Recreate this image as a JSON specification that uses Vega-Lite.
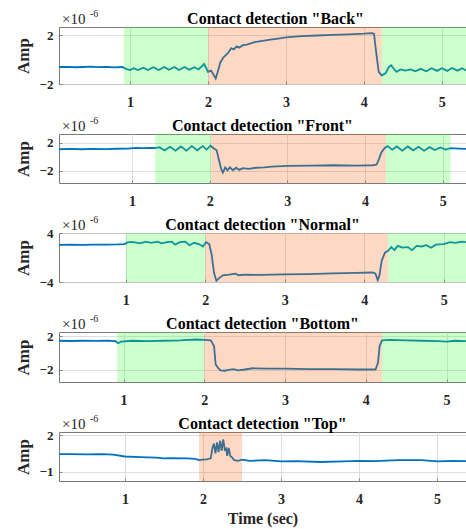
{
  "$schema": "https://vega.github.io/schema/vega-lite/v6.json",
  "padding": {"left": 13, "top": 8, "right": 0, "bottom": 2},
  "bounds": "flush",
  "spacing": 50,
  "background": "white",
  "config": {
    "font": "Liberation Serif",
    "view": {"stroke": "#7a7a7a", "strokeWidth": 1},
    "axis": {
      "labelFont": "Liberation Serif", "labelFontWeight": "bold", "labelFontSize": 13, "labelColor": "#262626", "labelFlush": false, "labelOverlap": false,
      "titleFont": "Liberation Serif", "titleFontWeight": "bold", "titleFontSize": 17, "titleColor": "#262626",
      "gridColor": "#d6d6d6", "gridWidth": 0.8, "domain": false, "ticks": true, "tickColor": "#6e6e6e", "tickSize": -3, "tickWidth": 0.8
    },
    "axisX": {"labelPadding": 14, "titlePadding": 4, "labelFontSize": 14},
    "axisY": {"labelPadding": 9, "titlePadding": 7},
    "title": {"font": "Liberation Serif", "fontSize": 16, "fontWeight": "bold", "color": "#000000", "offset": -18, "anchor": "middle"}
  },
  "datasets": {
    "back": [
      {"t": 0.09, "a": -0.6}, {"t": 0.2, "a": -0.58}, {"t": 0.3, "a": -0.62}, {"t": 0.4, "a": -0.6}, {"t": 0.5, "a": -0.57}, {"t": 0.6, "a": -0.61}, {"t": 0.7, "a": -0.6}, {"t": 0.8, "a": -0.63}, {"t": 0.9, "a": -0.6},
      {"t": 0.95, "a": -0.75}, {"t": 1.0, "a": -0.85}, {"t": 1.05, "a": -0.7}, {"t": 1.1, "a": -0.85}, {"t": 1.17, "a": -0.65}, {"t": 1.23, "a": -0.85}, {"t": 1.3, "a": -0.62}, {"t": 1.37, "a": -0.85}, {"t": 1.44, "a": -0.6}, {"t": 1.5, "a": -0.82}, {"t": 1.57, "a": -0.6}, {"t": 1.63, "a": -0.85}, {"t": 1.7, "a": -0.6}, {"t": 1.76, "a": -0.82}, {"t": 1.83, "a": -0.62}, {"t": 1.88, "a": -0.8}, {"t": 1.95, "a": -0.35}, {"t": 1.98, "a": -0.7}, {"t": 2.0, "a": -1.0}, {"t": 2.04, "a": -0.9}, {"t": 2.07, "a": -1.2}, {"t": 2.1, "a": -1.55}, {"t": 2.13, "a": -0.9}, {"t": 2.16, "a": -0.2}, {"t": 2.2, "a": 0.2}, {"t": 2.25, "a": 0.5}, {"t": 2.3, "a": 0.95}, {"t": 2.33, "a": 0.85}, {"t": 2.37, "a": 1.1}, {"t": 2.4, "a": 1.0}, {"t": 2.45, "a": 1.2}, {"t": 2.5, "a": 1.25}, {"t": 2.6, "a": 1.45}, {"t": 2.7, "a": 1.55}, {"t": 2.8, "a": 1.65}, {"t": 2.9, "a": 1.75}, {"t": 3.0, "a": 1.85}, {"t": 3.2, "a": 1.95}, {"t": 3.4, "a": 2.0}, {"t": 3.6, "a": 2.05}, {"t": 3.8, "a": 2.1}, {"t": 4.0, "a": 2.15}, {"t": 4.1, "a": 2.2}, {"t": 4.13, "a": 2.15}, {"t": 4.16, "a": 0.5}, {"t": 4.19, "a": -1.0}, {"t": 4.23, "a": -1.3}, {"t": 4.28, "a": -1.1}, {"t": 4.32, "a": -0.6}, {"t": 4.35, "a": -0.45}, {"t": 4.39, "a": -0.8}, {"t": 4.42, "a": -1.0}, {"t": 4.47, "a": -0.8}, {"t": 4.53, "a": -0.9}, {"t": 4.6, "a": -0.8}, {"t": 4.66, "a": -0.95}, {"t": 4.73, "a": -0.75}, {"t": 4.8, "a": -0.95}, {"t": 4.87, "a": -0.7}, {"t": 4.94, "a": -0.92}, {"t": 5.0, "a": -0.7}, {"t": 5.07, "a": -0.92}, {"t": 5.13, "a": -0.68}, {"t": 5.2, "a": -0.9}, {"t": 5.26, "a": -0.7}, {"t": 5.31, "a": -0.88}
    ],
    "front": [
      {"t": 0.06, "a": 1.05}, {"t": 0.2, "a": 1.1}, {"t": 0.35, "a": 1.05}, {"t": 0.5, "a": 1.1}, {"t": 0.65, "a": 1.08}, {"t": 0.8, "a": 1.12}, {"t": 0.95, "a": 1.15}, {"t": 1.05, "a": 1.25}, {"t": 1.15, "a": 1.2}, {"t": 1.25, "a": 1.25}, {"t": 1.3, "a": 1.2},
      {"t": 1.35, "a": 1.35}, {"t": 1.42, "a": 0.9}, {"t": 1.49, "a": 1.4}, {"t": 1.56, "a": 0.85}, {"t": 1.63, "a": 1.45}, {"t": 1.7, "a": 0.85}, {"t": 1.77, "a": 1.5}, {"t": 1.84, "a": 0.9}, {"t": 1.91, "a": 1.5}, {"t": 1.96, "a": 1.0}, {"t": 2.01, "a": 1.55}, {"t": 2.05, "a": 1.2}, {"t": 2.09, "a": 0.9}, {"t": 2.12, "a": -0.5}, {"t": 2.15, "a": -1.8}, {"t": 2.17, "a": -2.25}, {"t": 2.2, "a": -1.5}, {"t": 2.23, "a": -1.9}, {"t": 2.26, "a": -1.5}, {"t": 2.3, "a": -1.9}, {"t": 2.34, "a": -1.55}, {"t": 2.38, "a": -1.85}, {"t": 2.43, "a": -1.6}, {"t": 2.5, "a": -1.7}, {"t": 2.6, "a": -1.55}, {"t": 2.7, "a": -1.5}, {"t": 2.8, "a": -1.4}, {"t": 3.0, "a": -1.3}, {"t": 3.3, "a": -1.25}, {"t": 3.6, "a": -1.2}, {"t": 3.9, "a": -1.25}, {"t": 4.1, "a": -1.2}, {"t": 4.15, "a": -1.1}, {"t": 4.18, "a": -0.3}, {"t": 4.21, "a": 0.6}, {"t": 4.25, "a": 1.2}, {"t": 4.29, "a": 1.5}, {"t": 4.35, "a": 1.0}, {"t": 4.41, "a": 1.45}, {"t": 4.48, "a": 0.85}, {"t": 4.55, "a": 1.45}, {"t": 4.62, "a": 0.9}, {"t": 4.69, "a": 1.4}, {"t": 4.76, "a": 0.85}, {"t": 4.83, "a": 1.35}, {"t": 4.9, "a": 0.95}, {"t": 4.97, "a": 1.3}, {"t": 5.04, "a": 1.0}, {"t": 5.1, "a": 1.2}, {"t": 5.2, "a": 1.15}, {"t": 5.3, "a": 1.1}
    ],
    "normal": [
      {"t": 0.16, "a": 2.05}, {"t": 0.3, "a": 2.1}, {"t": 0.45, "a": 2.05}, {"t": 0.6, "a": 2.1}, {"t": 0.75, "a": 2.1}, {"t": 0.9, "a": 2.15}, {"t": 0.98, "a": 2.2}, {"t": 1.03, "a": 2.5}, {"t": 1.1, "a": 2.5}, {"t": 1.18, "a": 2.3}, {"t": 1.25, "a": 2.6}, {"t": 1.32, "a": 2.4}, {"t": 1.4, "a": 2.6}, {"t": 1.45, "a": 2.3}, {"t": 1.52, "a": 2.5}, {"t": 1.58, "a": 2.6}, {"t": 1.62, "a": 2.1}, {"t": 1.68, "a": 2.5}, {"t": 1.75, "a": 2.6}, {"t": 1.8, "a": 2.0}, {"t": 1.86, "a": 2.4}, {"t": 1.92, "a": 2.2}, {"t": 1.97, "a": 1.8}, {"t": 2.01, "a": 2.5}, {"t": 2.05, "a": 2.2}, {"t": 2.08, "a": 0.5}, {"t": 2.11, "a": -2.5}, {"t": 2.14, "a": -3.8}, {"t": 2.17, "a": -3.4}, {"t": 2.22, "a": -2.9}, {"t": 2.3, "a": -2.8}, {"t": 2.38, "a": -2.65}, {"t": 2.42, "a": -2.9}, {"t": 2.5, "a": -2.8}, {"t": 2.7, "a": -2.85}, {"t": 3.0, "a": -2.75}, {"t": 3.3, "a": -2.7}, {"t": 3.6, "a": -2.6}, {"t": 3.9, "a": -2.5}, {"t": 4.1, "a": -2.45}, {"t": 4.14, "a": -2.6}, {"t": 4.17, "a": -3.7}, {"t": 4.19, "a": -3.0}, {"t": 4.22, "a": -0.5}, {"t": 4.26, "a": 0.8}, {"t": 4.3, "a": 1.1}, {"t": 4.34, "a": 1.7}, {"t": 4.38, "a": 1.2}, {"t": 4.42, "a": 1.9}, {"t": 4.48, "a": 1.6}, {"t": 4.55, "a": 1.7}, {"t": 4.6, "a": 1.2}, {"t": 4.66, "a": 1.9}, {"t": 4.72, "a": 1.8}, {"t": 4.78, "a": 2.0}, {"t": 4.84, "a": 1.6}, {"t": 4.9, "a": 2.1}, {"t": 5.0, "a": 2.2}, {"t": 5.08, "a": 2.5}, {"t": 5.15, "a": 2.4}, {"t": 5.22, "a": 2.6}, {"t": 5.28, "a": 2.5}
    ],
    "bottom": [
      {"t": 0.2, "a": 1.45}, {"t": 0.35, "a": 1.42}, {"t": 0.5, "a": 1.45}, {"t": 0.65, "a": 1.43}, {"t": 0.8, "a": 1.45}, {"t": 0.9, "a": 1.4}, {"t": 0.93, "a": 1.15}, {"t": 0.97, "a": 1.35}, {"t": 1.1, "a": 1.45}, {"t": 1.3, "a": 1.4}, {"t": 1.5, "a": 1.45}, {"t": 1.7, "a": 1.5}, {"t": 1.9, "a": 1.6}, {"t": 2.0, "a": 1.55}, {"t": 2.08, "a": 1.5}, {"t": 2.12, "a": 0.8}, {"t": 2.14, "a": -1.4}, {"t": 2.17, "a": -1.8}, {"t": 2.2, "a": -2.1}, {"t": 2.25, "a": -2.15}, {"t": 2.3, "a": -2.05}, {"t": 2.36, "a": -1.95}, {"t": 2.42, "a": -2.1}, {"t": 2.5, "a": -2.0}, {"t": 2.6, "a": -1.85}, {"t": 2.8, "a": -1.9}, {"t": 3.0, "a": -1.9}, {"t": 3.3, "a": -1.95}, {"t": 3.6, "a": -1.95}, {"t": 3.9, "a": -2.0}, {"t": 4.12, "a": -2.0}, {"t": 4.15, "a": -1.2}, {"t": 4.17, "a": 0.8}, {"t": 4.2, "a": 1.5}, {"t": 4.3, "a": 1.55}, {"t": 4.5, "a": 1.5}, {"t": 4.7, "a": 1.45}, {"t": 4.9, "a": 1.4}, {"t": 5.0, "a": 1.35}, {"t": 5.1, "a": 1.45}, {"t": 5.24, "a": 1.4}
    ],
    "top": [
      {"t": 0.156, "a": 0.45}, {"t": 0.3, "a": 0.45}, {"t": 0.5, "a": 0.43}, {"t": 0.7, "a": 0.45}, {"t": 0.85, "a": 0.4}, {"t": 1.0, "a": 0.25}, {"t": 1.2, "a": 0.2}, {"t": 1.4, "a": 0.15}, {"t": 1.5, "a": 0.1}, {"t": 1.6, "a": 0.12}, {"t": 1.8, "a": 0.1}, {"t": 1.9, "a": 0.05}, {"t": 1.95, "a": -0.05}, {"t": 2.0, "a": 0.0}, {"t": 2.05, "a": 0.02}, {"t": 2.1, "a": 0.1}, {"t": 2.12, "a": 0.9}, {"t": 2.14, "a": 1.3}, {"t": 2.16, "a": 0.5}, {"t": 2.18, "a": 1.4}, {"t": 2.2, "a": 0.6}, {"t": 2.22, "a": 1.55}, {"t": 2.24, "a": 0.7}, {"t": 2.26, "a": 1.65}, {"t": 2.28, "a": 0.8}, {"t": 2.3, "a": 0.9}, {"t": 2.31, "a": 0.3}, {"t": 2.33, "a": 0.95}, {"t": 2.35, "a": 0.3}, {"t": 2.37, "a": 0.2}, {"t": 2.4, "a": -0.05}, {"t": 2.45, "a": -0.1}, {"t": 2.5, "a": 0.0}, {"t": 2.6, "a": -0.1}, {"t": 2.8, "a": -0.05}, {"t": 3.0, "a": -0.15}, {"t": 3.2, "a": -0.12}, {"t": 3.5, "a": -0.2}, {"t": 3.8, "a": -0.15}, {"t": 4.0, "a": -0.1}, {"t": 4.2, "a": -0.12}, {"t": 4.5, "a": -0.05}, {"t": 4.8, "a": -0.05}, {"t": 5.0, "a": -0.15}, {"t": 5.2, "a": -0.1}, {"t": 5.37, "a": -0.12}
    ],
    "regions": [
      {"panel": "Back", "kind": "approach", "start": 0.92, "end": 2.0},
      {"panel": "Back", "kind": "contact", "start": 2.0, "end": 4.23},
      {"panel": "Back", "kind": "approach", "start": 4.23, "end": 5.5},
      {"panel": "Front", "kind": "approach", "start": 1.3, "end": 2.02},
      {"panel": "Front", "kind": "contact", "start": 2.02, "end": 4.27},
      {"panel": "Front", "kind": "approach", "start": 4.27, "end": 5.1},
      {"panel": "Normal", "kind": "approach", "start": 1.0, "end": 2.0},
      {"panel": "Normal", "kind": "contact", "start": 2.0, "end": 4.3},
      {"panel": "Normal", "kind": "approach", "start": 4.3, "end": 5.5},
      {"panel": "Bottom", "kind": "approach", "start": 0.92, "end": 2.0},
      {"panel": "Bottom", "kind": "contact", "start": 2.0, "end": 4.2},
      {"panel": "Bottom", "kind": "approach", "start": 4.2, "end": 5.5},
      {"panel": "Top", "kind": "contact", "start": 1.95, "end": 2.5}
    ],
    "exponent": [
      {"panel": "Back", "t": 0.09, "a": 2.7},
      {"panel": "Front", "t": 0.06, "a": 3.2},
      {"panel": "Normal", "t": 0.16, "a": 4},
      {"panel": "Bottom", "t": 0.2, "a": 2.5},
      {"panel": "Top", "t": 0.156, "a": 2.25}
    ]
  },
  "vconcat": [
    {
      "width": 407, "height": 57,
      "title": {"text": "Contact detection \"Back\"", "dx": 13},
      "layer": [
        {"data": {"name": "back"}, "mark": {"type": "line", "color": "#0072BD", "strokeWidth": 1.8, "clip": true},
         "encoding": {"x": {"field": "t", "type": "quantitative", "scale": {"domain": [0.09, 5.31], "nice": false, "zero": false}, "axis": {"values": [1, 2, 3, 4, 5], "format": "d", "labelOverlap": false, "title": null}},
                      "y": {"field": "a", "type": "quantitative", "scale": {"domain": [-2, 2.7], "nice": false, "zero": false}, "axis": {"values": [-2, 0, 2], "format": "d", "labelOverlap": false, "title": "Amp"}}}},
        {"data": {"name": "regions"}, "transform": [{"filter": "datum.panel == 'Back'"}], "mark": {"type": "rect", "opacity": 0.25, "clip": true},
         "encoding": {"x": {"field": "start", "type": "quantitative"}, "x2": {"field": "end"}, "color": {"field": "kind", "type": "nominal", "scale": {"domain": ["approach", "contact"], "range": ["#33ff33", "#f76713"]}, "legend": null}}},
        {"data": {"name": "exponent"}, "transform": [{"filter": "datum.panel == 'Back'"}], "mark": {"type": "text", "text": "×10", "align": "left", "baseline": "alphabetic", "dx": 3, "dy": -3, "fontSize": 15, "color": "#262626"}, "encoding": {"x": {"field": "t", "type": "quantitative"}, "y": {"field": "a", "type": "quantitative"}}},
        {"data": {"name": "exponent"}, "transform": [{"filter": "datum.panel == 'Back'"}], "mark": {"type": "text", "text": "-6", "align": "left", "baseline": "alphabetic", "dx": 31, "dy": -10, "fontSize": 10, "color": "#262626"}, "encoding": {"x": {"field": "t", "type": "quantitative"}, "y": {"field": "a", "type": "quantitative"}}}
      ]
    },
    {
      "width": 407, "height": 49,
      "title": {"text": "Contact detection \"Front\""},
      "layer": [
        {"data": {"name": "front"}, "mark": {"type": "line", "color": "#0072BD", "strokeWidth": 1.8, "clip": true},
         "encoding": {"x": {"field": "t", "type": "quantitative", "scale": {"domain": [0.06, 5.3], "nice": false, "zero": false}, "axis": {"values": [1, 2, 3, 4, 5], "format": "d", "labelOverlap": false, "title": null}},
                      "y": {"field": "a", "type": "quantitative", "scale": {"domain": [-3.7, 3.2], "nice": false, "zero": false}, "axis": {"values": [-2, 0, 2], "format": "d", "labelOverlap": false, "title": "Amp"}}}},
        {"data": {"name": "regions"}, "transform": [{"filter": "datum.panel == 'Front'"}], "mark": {"type": "rect", "opacity": 0.25, "clip": true},
         "encoding": {"x": {"field": "start", "type": "quantitative"}, "x2": {"field": "end"}, "color": {"field": "kind", "type": "nominal", "scale": {"domain": ["approach", "contact"], "range": ["#33ff33", "#f76713"]}, "legend": null}}},
        {"data": {"name": "exponent"}, "transform": [{"filter": "datum.panel == 'Front'"}], "mark": {"type": "text", "text": "×10", "align": "left", "baseline": "alphabetic", "dx": 3, "dy": -3, "fontSize": 15, "color": "#262626"}, "encoding": {"x": {"field": "t", "type": "quantitative"}, "y": {"field": "a", "type": "quantitative"}}},
        {"data": {"name": "exponent"}, "transform": [{"filter": "datum.panel == 'Front'"}], "mark": {"type": "text", "text": "-6", "align": "left", "baseline": "alphabetic", "dx": 31, "dy": -10, "fontSize": 10, "color": "#262626"}, "encoding": {"x": {"field": "t", "type": "quantitative"}, "y": {"field": "a", "type": "quantitative"}}}
      ]
    },
    {
      "width": 407, "height": 49,
      "title": {"text": "Contact detection \"Normal\""},
      "layer": [
        {"data": {"name": "normal"}, "mark": {"type": "line", "color": "#0072BD", "strokeWidth": 1.8, "clip": true},
         "encoding": {"x": {"field": "t", "type": "quantitative", "scale": {"domain": [0.16, 5.28], "nice": false, "zero": false}, "axis": {"values": [1, 2, 3, 4, 5], "format": "d", "labelOverlap": false, "title": null}},
                      "y": {"field": "a", "type": "quantitative", "scale": {"domain": [-4, 4], "nice": false, "zero": false}, "axis": {"values": [-4, -2, 0, 2, 4], "format": "d", "labelOverlap": false, "title": "Amp"}}}},
        {"data": {"name": "regions"}, "transform": [{"filter": "datum.panel == 'Normal'"}], "mark": {"type": "rect", "opacity": 0.25, "clip": true},
         "encoding": {"x": {"field": "start", "type": "quantitative"}, "x2": {"field": "end"}, "color": {"field": "kind", "type": "nominal", "scale": {"domain": ["approach", "contact"], "range": ["#33ff33", "#f76713"]}, "legend": null}}},
        {"data": {"name": "exponent"}, "transform": [{"filter": "datum.panel == 'Normal'"}], "mark": {"type": "text", "text": "×10", "align": "left", "baseline": "alphabetic", "dx": 3, "dy": -3, "fontSize": 15, "color": "#262626"}, "encoding": {"x": {"field": "t", "type": "quantitative"}, "y": {"field": "a", "type": "quantitative"}}},
        {"data": {"name": "exponent"}, "transform": [{"filter": "datum.panel == 'Normal'"}], "mark": {"type": "text", "text": "-6", "align": "left", "baseline": "alphabetic", "dx": 31, "dy": -10, "fontSize": 10, "color": "#262626"}, "encoding": {"x": {"field": "t", "type": "quantitative"}, "y": {"field": "a", "type": "quantitative"}}}
      ]
    },
    {
      "width": 407, "height": 50,
      "title": {"text": "Contact detection \"Bottom\""},
      "layer": [
        {"data": {"name": "bottom"}, "mark": {"type": "line", "color": "#0072BD", "strokeWidth": 1.8, "clip": true},
         "encoding": {"x": {"field": "t", "type": "quantitative", "scale": {"domain": [0.2, 5.24], "nice": false, "zero": false}, "axis": {"values": [1, 2, 3, 4, 5], "format": "d", "labelOverlap": false, "title": null}},
                      "y": {"field": "a", "type": "quantitative", "scale": {"domain": [-3.5, 2.5], "nice": false, "zero": false}, "axis": {"values": [-2, 0, 2], "format": "d", "labelOverlap": false, "title": "Amp"}}}},
        {"data": {"name": "regions"}, "transform": [{"filter": "datum.panel == 'Bottom'"}], "mark": {"type": "rect", "opacity": 0.25, "clip": true},
         "encoding": {"x": {"field": "start", "type": "quantitative"}, "x2": {"field": "end"}, "color": {"field": "kind", "type": "nominal", "scale": {"domain": ["approach", "contact"], "range": ["#33ff33", "#f76713"]}, "legend": null}}},
        {"data": {"name": "exponent"}, "transform": [{"filter": "datum.panel == 'Bottom'"}], "mark": {"type": "text", "text": "×10", "align": "left", "baseline": "alphabetic", "dx": 3, "dy": -3, "fontSize": 15, "color": "#262626"}, "encoding": {"x": {"field": "t", "type": "quantitative"}, "y": {"field": "a", "type": "quantitative"}}},
        {"data": {"name": "exponent"}, "transform": [{"filter": "datum.panel == 'Bottom'"}], "mark": {"type": "text", "text": "-6", "align": "left", "baseline": "alphabetic", "dx": 31, "dy": -10, "fontSize": 10, "color": "#262626"}, "encoding": {"x": {"field": "t", "type": "quantitative"}, "y": {"field": "a", "type": "quantitative"}}}
      ]
    },
    {
      "width": 407, "height": 49,
      "title": {"text": "Contact detection \"Top\""},
      "layer": [
        {"data": {"name": "top"}, "mark": {"type": "line", "color": "#0072BD", "strokeWidth": 1.8, "clip": true},
         "encoding": {"x": {"field": "t", "type": "quantitative", "scale": {"domain": [0.156, 5.37], "nice": false, "zero": false}, "axis": {"values": [1, 2, 3, 4, 5], "format": "d", "labelOverlap": false, "title": "Time (sec)", "titleFontSize": 16}},
                      "y": {"field": "a", "type": "quantitative", "scale": {"domain": [-1.75, 2.25], "nice": false, "zero": false}, "axis": {"values": [-1, 0, 1, 2], "format": "d", "labelOverlap": false, "title": "Amp"}}}},
        {"data": {"name": "regions"}, "transform": [{"filter": "datum.panel == 'Top'"}], "mark": {"type": "rect", "opacity": 0.25, "clip": true},
         "encoding": {"x": {"field": "start", "type": "quantitative"}, "x2": {"field": "end"}, "color": {"field": "kind", "type": "nominal", "scale": {"domain": ["approach", "contact"], "range": ["#33ff33", "#f76713"]}, "legend": null}}},
        {"data": {"name": "exponent"}, "transform": [{"filter": "datum.panel == 'Top'"}], "mark": {"type": "text", "text": "×10", "align": "left", "baseline": "alphabetic", "dx": 3, "dy": -3, "fontSize": 15, "color": "#262626"}, "encoding": {"x": {"field": "t", "type": "quantitative"}, "y": {"field": "a", "type": "quantitative"}}},
        {"data": {"name": "exponent"}, "transform": [{"filter": "datum.panel == 'Top'"}], "mark": {"type": "text", "text": "-6", "align": "left", "baseline": "alphabetic", "dx": 31, "dy": -10, "fontSize": 10, "color": "#262626"}, "encoding": {"x": {"field": "t", "type": "quantitative"}, "y": {"field": "a", "type": "quantitative"}}}
      ]
    }
  ]
}
